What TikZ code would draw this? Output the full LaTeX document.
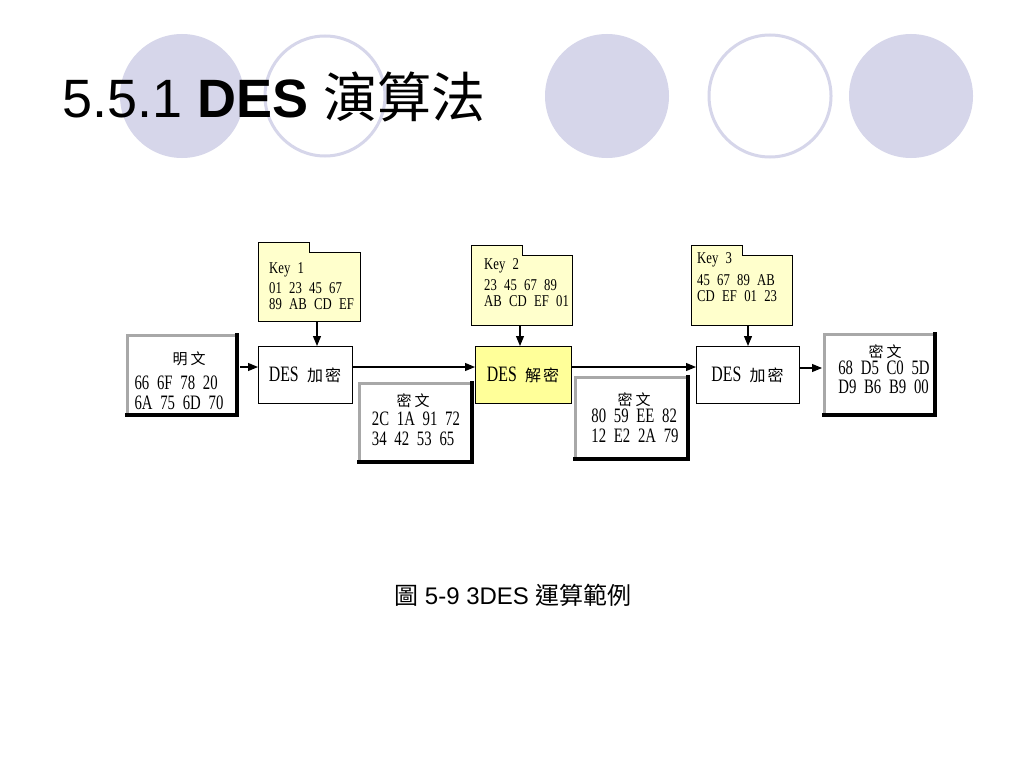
\documentclass[tikz,border=0pt]{standalone}
\usepackage{fontspec}
\setmainfont{Liberation Sans}
\newfontfamily\cjk{Noto Sans CJK TC}
\newfontfamily\hexf[FakeStretch=0.72,WordSpace=2.1]{Liberation Serif}
\newfontfamily\keyf[FakeStretch=0.77,WordSpace=2.3]{Liberation Serif}
\usetikzlibrary{arrows.meta}
\definecolor{circ}{HTML}{D6D6EA}
\definecolor{keyfill}{HTML}{FFFFCC}
\definecolor{decfill}{HTML}{FFFF99}
\definecolor{bevgray}{HTML}{A8A8A8}
\tikzset{
  desbox/.style={draw=black,line width=1pt,fill=white,inner sep=0pt,outer sep=0pt,minimum height=57pt,
    font=\hexf\fontsize{22}{22}\selectfont},
  bevel/.style={draw=bevgray,line width=3pt,fill=white,inner sep=0pt,outer sep=0pt},
  shadowline/.style={draw=black,line width=3.5pt,line cap=rect},
  keybody/.style={draw=none,inner sep=0pt,outer sep=0pt},
  folder/.style={draw=black,line width=1pt,fill=keyfill,line join=miter},
  hexlines/.style={font=\hexf\fontsize{20.5}{19.5}\selectfont,align=left,inner sep=0pt},
  keylines/.style={font=\keyf\fontsize{16.5}{16}\selectfont,align=left,inner sep=0pt,anchor=north west},
  keytitle/.style={font=\keyf\fontsize{16.5}{16}\selectfont,inner sep=0pt,anchor=base west},
  header/.style={font=\cjk\fontsize{15}{15}\selectfont,inner sep=0pt},
  arr/.style={draw=black,line width=1.1pt,-{Triangle[length=10pt,width=8pt]}},
  bigcirc/.style={fill=circ,draw=none},
  ringcirc/.style={draw=circ,line width=3pt,fill=white}
}
\begin{document}
\begin{tikzpicture}[x=1pt,y=-1pt]
\useasboundingbox (0,0) rectangle (1024,768);
\fill[white] (0,0) rectangle (1024,768);

% decorative circles
\path[bigcirc] (182,96) circle (62);
\path[ringcirc] (325,96) circle (60);
\path[bigcirc] (607,96) circle (62);
\path[ringcirc] (770,96) circle (61);
\path[bigcirc] (911,96) circle (62);

% title
\node[anchor=base west,inner sep=0pt,font=\fontsize{54}{54}\selectfont] (title) at (62,117)
  {5.5.1 \textbf{DES} {\cjk 演算法}};

% key folders
\draw[folder] (258,321) -- (258,242) -- (309,242) -- (309,252) -- (360,252) -- (360,321) -- cycle;
\draw[folder] (471,325) -- (471,245) -- (522,245) -- (522,255) -- (572,255) -- (572,325) -- cycle;
\draw[folder] (691,325) -- (691,245) -- (742,245) -- (742,255) -- (792,255) -- (792,325) -- cycle;
\node[keybody,minimum width=102pt,minimum height=79pt] (k1) at (309,281.5) {};
\node[keybody,minimum width=101pt,minimum height=80pt] (k2) at (521.5,285) {};
\node[keybody,minimum width=101pt,minimum height=80pt] (k3) at (741.5,285) {};

\node[keytitle] (k1t) at (269,273.5) {Key 1};
\node[keylines] (k1l) at (269,282) {01 23 45 67\\89 AB CD EF};
\node[keytitle] (k2t) at (484,269.5) {Key 2};
\node[keylines] (k2l) at (484,279) {23 45 67 89\\AB CD EF 01};
\node[keytitle] (k3t) at (697,263.5) {Key 3};
\node[keylines] (k3l) at (697,274) {45 67 89 AB\\CD EF 01 23};

% DES boxes
\node[desbox,minimum width=94pt] (d1) at (305,374.5) {DES\ {\cjk\fontsize{16}{16}\selectfont 加\hspace{2pt}密}};
\node[desbox,minimum width=96pt,fill=decfill] (d2) at (523,374.5) {DES\ {\cjk\fontsize{16}{16}\selectfont 解\hspace{2pt}密}};
\node[desbox,minimum width=103pt] (d3) at (747.5,374.5) {DES\ {\cjk\fontsize{16}{16}\selectfont 加\hspace{2pt}密}};

% bevel boxes
\node[bevel,minimum width=110pt,minimum height=80pt] (p) at (182,375) {};
\draw[shadowline] (p.north east) -- (p.south east) -- (p.south west);
\node[bevel,minimum width=113pt,minimum height=79pt] (c1) at (415.5,422.5) {};
\draw[shadowline] (c1.north east) -- (c1.south east) -- (c1.south west);
\node[bevel,minimum width=113pt,minimum height=82pt] (c2) at (631.5,418) {};
\draw[shadowline] (c2.north east) -- (c2.south east) -- (c2.south west);
\node[bevel,minimum width=111pt,minimum height=81pt] (c3) at (879.5,374.5) {};
\draw[shadowline] (c3.north east) -- (c3.south east) -- (c3.south west);

\node[header] (ph) at (189,359) {明\hspace{3pt}文};
\node[hexlines] (pt) at (179,393) {66 6F 78 20\\6A 75 6D 70};
\node[header] (c1h) at (413,401) {密\hspace{3pt}文};
\node[hexlines] (c1t) at (416,429) {2C 1A 91 72\\34 42 53 65};
\node[header] (c2h) at (634,400) {密\hspace{3pt}文};
\node[hexlines] (c2t) at (635,426) {80 59 EE 82\\12 E2 2A 79};
\node[header] (c3h) at (885,352) {密\hspace{3pt}文};
\node[hexlines] (c3t) at (884,377.5) {68 D5 C0 5D\\D9 B6 B9 00};

% arrows
\draw[arr,shorten <=3pt] ([yshift=8pt]p.east) -- ([yshift=8pt]p.east -| d1.west);
\draw[arr] ([yshift=7.5pt]d1.east) -- ([yshift=7.5pt]d1.east -| d2.west);
\draw[arr] ([yshift=7.5pt]d2.east) -- ([yshift=7.5pt]d2.east -| d3.west);
\draw[arr,shorten >=2pt] ([yshift=6.5pt]d3.east) -- ([yshift=6.5pt]d3.east -| c3.west);
\draw[arr] ([xshift=8pt]k1.south) -- ([xshift=8pt]k1.south |- d1.north);
\draw[arr] ([xshift=-1.5pt]k2.south) -- ([xshift=-1.5pt]k2.south |- d2.north);
\draw[arr] ([xshift=6.5pt]k3.south) -- ([xshift=6.5pt]k3.south |- d3.north);

% caption
\node[anchor=base,inner sep=0pt,font=\fontsize{24}{24}\selectfont] (cap) at (513,604)
  {{\cjk 圖} 5-9 3DES {\cjk 運算範例}};
\end{tikzpicture}
\end{document}
